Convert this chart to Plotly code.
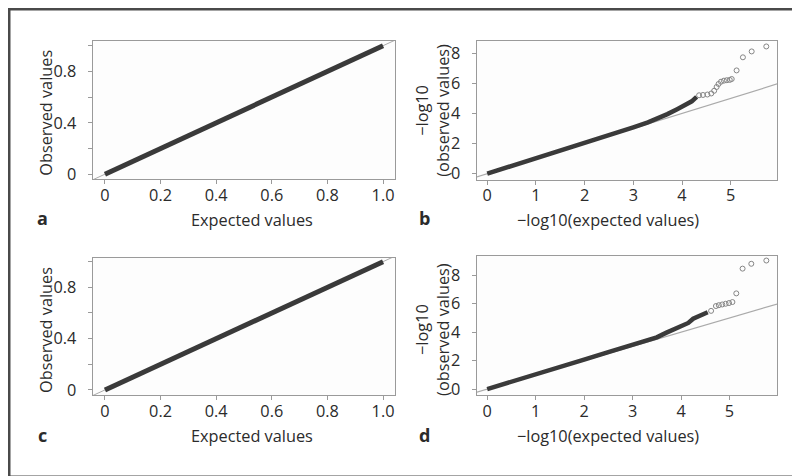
import plotly.graph_objects as go

# ---------------- data ----------------
# Panel a / c : observed vs expected p-values (dense points along the diagonal)
expected_a = [0.0, 0.1, 0.2, 0.3, 0.4, 0.5, 0.6, 0.7, 0.8, 0.9, 1.0]
observed_a = [0.0, 0.1, 0.2, 0.3, 0.4, 0.5, 0.6, 0.7, 0.8, 0.9, 1.0]
expected_c = [0.0, 0.1, 0.2, 0.3, 0.4, 0.5, 0.6, 0.7, 0.8, 0.9, 1.0]
observed_c = [0.0, 0.1, 0.2, 0.3, 0.4, 0.5, 0.6, 0.7, 0.8, 0.9, 1.0]

# Panel b : -log10 QQ, dense part and tail points
dense_x_b = [0.0, 0.5, 1.0, 1.5, 2.0, 2.5, 3.0, 3.3, 3.5, 3.7, 3.9, 4.0, 4.1, 4.2, 4.3]
dense_y_b = [0.0, 0.5, 1.0, 1.52, 2.03, 2.55, 3.07, 3.4, 3.66, 3.95, 4.28, 4.45, 4.6, 4.8, 5.1]
tail_x_b = [4.35, 4.43, 4.52, 4.6, 4.66, 4.71, 4.75, 4.8, 4.86, 4.92, 4.98, 5.02, 5.12, 5.25, 5.43, 5.73]
tail_y_b = [5.2, 5.22, 5.25, 5.32, 5.5, 5.75, 5.95, 6.1, 6.17, 6.2, 6.22, 6.28, 6.85, 7.72, 8.11, 8.44]

# Panel d
dense_x_d = [0.0, 0.5, 1.0, 1.5, 2.0, 2.5, 3.0, 3.3, 3.5, 3.7, 3.9, 4.05, 4.15, 4.25, 4.4, 4.55]
dense_y_d = [0.0, 0.5, 1.02, 1.55, 2.07, 2.6, 3.12, 3.4, 3.64, 3.97, 4.25, 4.45, 4.65, 4.95, 5.2, 5.4]
tail_x_d = [4.62, 4.72, 4.78, 4.85, 4.92, 4.99, 5.06, 5.14, 5.27, 5.45, 5.76]
tail_y_d = [5.5, 5.84, 5.9, 5.95, 6.0, 6.05, 6.12, 6.73, 8.47, 8.81, 9.04]

# identity reference lines
ref_unit = [-0.1, 1.1]
ref_log = [-0.5, 6.5]

# ticks
unit_ticks = [0, 0.2, 0.4, 0.6, 0.8, 1.0]
unit_xlabels = ["0", "0.2", "0.4", "0.6", "0.8", "1.0"]
unit_ylabels = ["0", "", "0.4", "", "0.8", ""]
log_xticks = [0, 1, 2, 3, 4, 5]
log_yticks = [0, 2, 4, 6, 8]

panel_letters = ["a", "b", "c", "d"]
title_unit_x = "Expected values"
title_unit_y = "Observed values"
title_log_x = "\u2212log10(expected values)"
title_log_y = "\u2212log10<br>(observed values)"

# ---------------- figure ----------------
W, H = 800, 476
FONT = "Open Sans"
FS = 16.3
TXT = "#2b2b2b"
PT = "#3a3a3a"
REF = "#aaaaaa"
FRAME = "#9a9a9a"
YPAD = "\u00a0\u00a0"  # gap between y tick labels and ticks

fig = go.Figure()

def px_x(p):
    return p / W

def px_y(p):
    return 1 - p / H

# domains in pixels: (left, right, top, bottom)
boxes = {
    1: (85, 387, 33, 173.5),
    2: (469, 769, 33, 174),
    3: (85, 387, 253, 392),
    4: (469, 769, 251, 392),
}

def add_line(xs, ys, n, color, width):
    fig.add_trace(go.Scatter(x=xs, y=ys, mode="lines",
                             line=dict(color=color, width=width),
                             xaxis=f"x{n}", yaxis=f"y{n}", showlegend=False,
                             hoverinfo="skip"))

# references first
add_line(ref_unit, ref_unit, 1, REF, 1)
add_line(ref_log, ref_log, 2, REF, 1.2)
add_line(ref_unit, ref_unit, 3, REF, 1)
add_line(ref_log, ref_log, 4, REF, 1.2)

add_line(expected_a, observed_a, 1, PT, 5)
add_line(dense_x_b, dense_y_b, 2, PT, 4.5)
add_line(expected_c, observed_c, 3, PT, 5)
add_line(dense_x_d, dense_y_d, 4, PT, 4.5)

for xs, ys, n in [(tail_x_b, tail_y_b, 2), (tail_x_d, tail_y_d, 4)]:
    fig.add_trace(go.Scatter(x=xs, y=ys, mode="markers",
                             marker=dict(symbol="circle-open", size=5,
                                         color="#858585", line=dict(width=1)),
                             xaxis=f"x{n}", yaxis=f"y{n}", showlegend=False))

axis_common = dict(showline=True, linecolor=FRAME, linewidth=1, mirror=True,
                   showgrid=False, zeroline=False, ticks="outside", ticklen=4,
                   tickcolor=FRAME, tickwidth=1,
                   tickfont=dict(family=FONT, size=FS, color=TXT))

ranges = {
    1: ([-0.043, 1.043], [-0.04, 1.04]),
    2: ([-0.21, 5.95], [-0.41, 8.83]),
    3: ([-0.043, 1.043], [-0.04, 1.03]),
    4: ([-0.21, 5.98], [-0.42, 9.37]),
}

layout = {}
for n, (l, r, t, b) in boxes.items():
    xr, yr = ranges[n]
    sfx = "" if n == 1 else str(n)
    if n in (1, 3):
        xt = dict(tickmode="array", tickvals=unit_ticks, ticktext=unit_xlabels)
        yt = dict(tickmode="array", tickvals=unit_ticks,
                  ticktext=[(s + YPAD) if s else s for s in unit_ylabels])
    else:
        xt = dict(tickmode="array", tickvals=log_xticks,
                  ticktext=[str(v) for v in log_xticks])
        yt = dict(tickmode="array", tickvals=log_yticks,
                  ticktext=[str(v) + YPAD for v in log_yticks])
    layout["xaxis" + sfx] = dict(domain=[px_x(l), px_x(r)], range=xr,
                                 anchor="y" + ("" if n == 1 else str(n)),
                                 ticklabelstandoff=-3,
                                 **xt, **axis_common)
    layout["yaxis" + sfx] = dict(domain=[px_y(b), px_y(t)], range=yr,
                                 anchor="x" + ("" if n == 1 else str(n)),
                                 **yt, **axis_common)

fig.update_layout(**layout)

ann = []
def text(x, y, s, size=FS, bold=False, angle=0):
    ann.append(dict(x=px_x(x), y=px_y(y), xref="paper", yref="paper",
                    text=("<b>%s</b>" % s) if bold else s, showarrow=False,
                    textangle=angle, xanchor="center", yanchor="middle",
                    font=dict(family=FONT, size=size, color=TXT)))

# axis titles
text(244, 215, title_unit_x)
text(38, 106, title_unit_y, angle=-90)
text(600, 215, title_log_x)
text(425, 104, title_log_y, angle=-90)
text(244, 433, title_unit_x)
text(38, 326, title_unit_y, angle=-90)
text(600, 433, title_log_x)
text(425, 326, title_log_y, angle=-90)
# panel letters
text(34, 213, panel_letters[0], size=18, bold=True)
text(416, 213, panel_letters[1], size=18, bold=True)
text(34, 432, panel_letters[2], size=18, bold=True)
text(416, 432, panel_letters[3], size=18, bold=True)

fig.update_layout(
    width=W, height=H,
    margin=dict(l=0, r=0, t=0, b=0),
    paper_bgcolor="white", plot_bgcolor="#fdfdfd",
    annotations=ann,
    shapes=[dict(type="rect", xref="paper", yref="paper", x0=0, y0=0, x1=1, y1=1,
                 line=dict(color="#4a4a4a", width=5))],
)

fig.write_html("out.html")
